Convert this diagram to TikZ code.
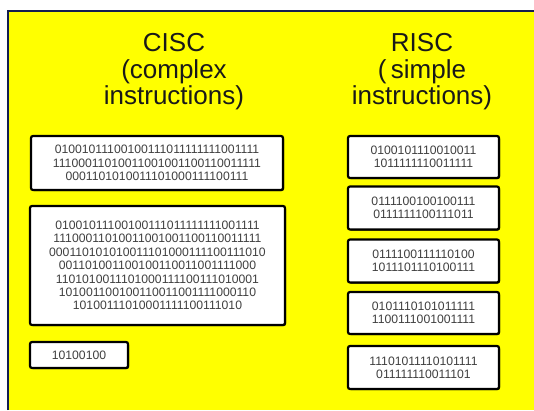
\documentclass[tikz,border=0pt]{standalone}
\usepackage{fontspec}
\setmainfont{Liberation Sans}
\usetikzlibrary{shadows}
\definecolor{panelyellow}{RGB}{255,255,0}
\definecolor{panelnavy}{RGB}{20,30,80}
\begin{document}
\begin{tikzpicture}[
    x=1pt, y=1pt,
    title/.style={align=center, font=\fontsize{26}{26.5}\selectfont, inner sep=0pt, text=black!90},
    instr/.style={rectangle, draw=black, line width=2.2pt, fill=white, rounded corners=2pt,
        align=center, inner sep=0pt, text=black!75, font=\fontsize{12.2}{13.4}\selectfont,
        drop shadow={shadow xshift=1pt, shadow yshift=-1pt, opacity=0.8, fill=black}}
    ]
    \useasboundingbox (0,0) rectangle (534,-410);
    \fill[panelyellow] (8,-11) rectangle (534,-410);
    \draw[panelnavy, line width=1.5pt] (8,-410) -- (8,-11) -- (534,-11);

    % headings
    \node[title] (cisc) at (174,-72) {CISC\\(complex\\instructions)};
    \node[title] (risc) at (422,-72) {RISC\\(\,simple\\instructions)};

    % complex instructions
    \node[instr, minimum width=252, minimum height=54] (c1) at (157,-163)
        {01001011100100111011111111001111\\11100011010011001001100110011111\\0001101010011101000111100111};
    \node[instr, minimum width=255, minimum height=119] (c2) at (157.5,-265.5)
        {01001011100100111011111111001111\\11100011010011001001100110011111\\000110101010011101000111100111010\\001101001100100110011001111000\\1101010011101000111100111010001\\101001100100110011001111000110\\10100111010001111100111010};
    \node[instr, minimum width=98, minimum height=26] (c3) at (79,-355) {10100100};

    % simple instructions
    \node[instr, minimum width=151, minimum height=42] (r1) at (423.5,-157) {0100101110010011\\1011111110011111};
    \node[instr, minimum width=151, minimum height=43] (r2) at (423.5,-208) {0111100100100111\\0111111100111011};
    \node[instr, minimum width=151, minimum height=43] (r3) at (423.5,-261) {0111100111110100\\1011101110100111};
    \node[instr, minimum width=151, minimum height=42] (r4) at (423.5,-313) {0101110101011111\\1100111001001111};
    \node[instr, minimum width=151, minimum height=43] (r5) at (423.5,-367.5) {11101011110101111\\011111110011101};
\end{tikzpicture}
\end{document}
